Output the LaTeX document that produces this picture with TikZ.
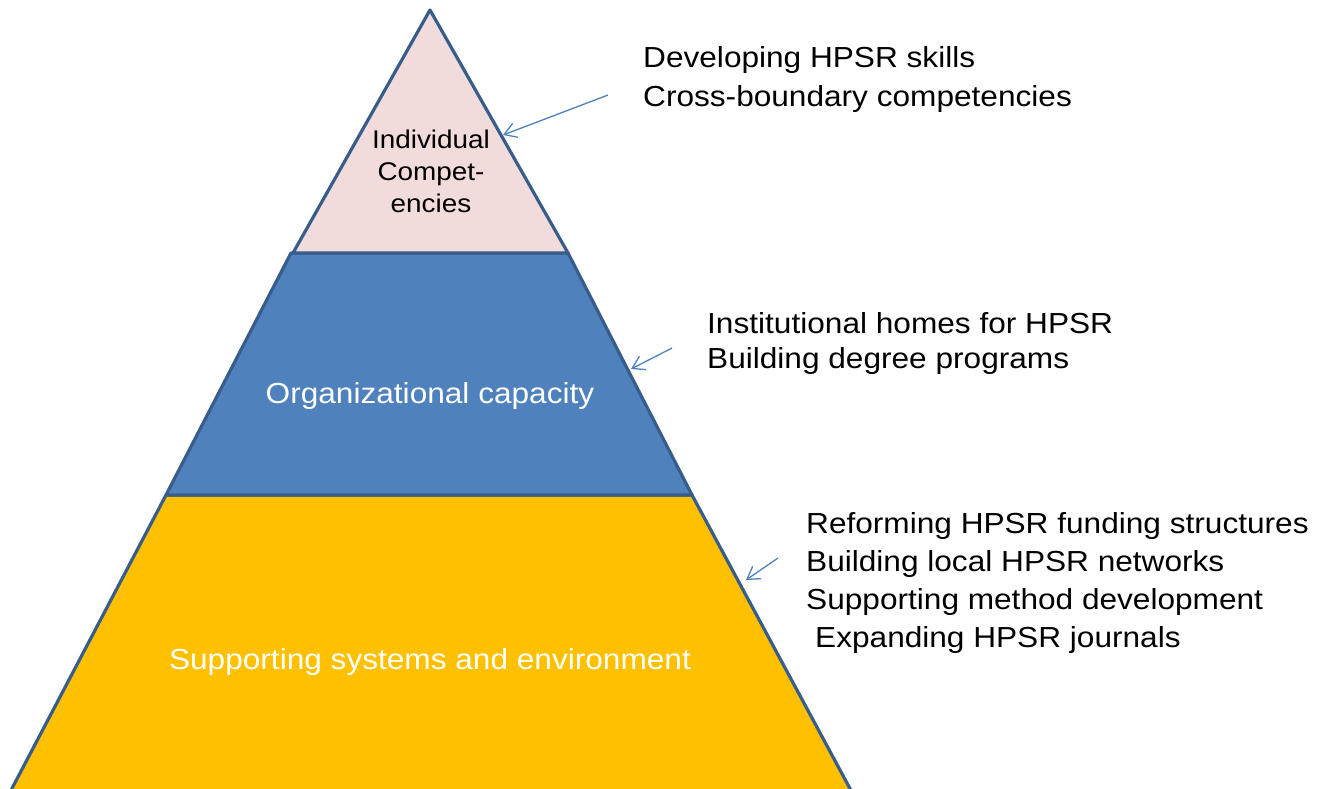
\documentclass[tikz,border=0pt]{standalone}
\usepackage{fontspec}
\setmainfont{Liberation Sans}[FakeStretch=1.09]
\usetikzlibrary{arrows.meta}
\definecolor{edge}{HTML}{385D8A}
\definecolor{tierpink}{HTML}{F2DCDB}
\definecolor{tierblue}{HTML}{4F81BD}
\definecolor{tieryellow}{HTML}{FFC000}
\begin{document}
\begin{tikzpicture}[x=1pt,y=-1pt,
  tier/.style={draw=edge, line width=3.2pt, line join=round},
  side/.style={anchor=base west, font=\fontsize{29}{35}\selectfont, inner sep=0pt, text=black},
  toplbl/.style={anchor=base, font=\fontsize{25.6}{32}\selectfont, inner sep=0pt, text=black},
  tierlbl/.style={anchor=base, font=\fontsize{29}{35}\selectfont, inner sep=0pt, text=white},
  ptr/.style={draw=tierblue, line width=1.3pt, -{Straight Barb[length=12pt,width=15pt]}}]
\useasboundingbox (0,0) rectangle (1321,788);
% tiers
\path[tier, fill=tieryellow] (166,495) -- (692,495) -- (854,796) -- (8,796) -- cycle;
\path[tier, fill=tierblue] (291,253) -- (568,253) -- (692,495) -- (166,495) -- cycle;
\path[tier, fill=tierpink] (430,10) -- (568,253) -- (293,253) -- cycle;
% tier labels
\node[toplbl] (t1) at (431,148) {Individual};
\node[toplbl] (t2) at (431,180) {Compet-};
\node[toplbl] (t3) at (431,212) {encies};
\node[tierlbl] (t4) at (430,403) {Organizational capacity};
\node[tierlbl] (t5) at (430,669) {Supporting systems and environment};
% side texts
\node[side] (a1) at (643,67) {Developing HPSR skills};
\node[side] (a2) at (643,106) {Cross-boundary competencies};
\node[side] (b1) at (707,333) {Institutional homes for HPSR};
\node[side] (b2) at (707,368) {Building degree programs};
\node[side] (c1) at (806,533) {Reforming HPSR funding structures};
\node[side] (c2) at (806,571) {Building local HPSR networks};
\node[side] (c3) at (806,609) {Supporting method development};
\node[side] (c4) at (815,647) {Expanding HPSR journals};
% pointers
\coordinate (p1s) at (608,95);
\coordinate (p1e) at (503,135);
\coordinate (p2s) at (672,348);
\coordinate (p2e) at (631,369);
\coordinate (p3s) at (778,558);
\coordinate (p3e) at (746,580);
\draw[ptr] (p1s) -- (p1e);
\draw[ptr] (p2s) -- (p2e);
\draw[ptr] (p3s) -- (p3e);
\end{tikzpicture}
\end{document}
